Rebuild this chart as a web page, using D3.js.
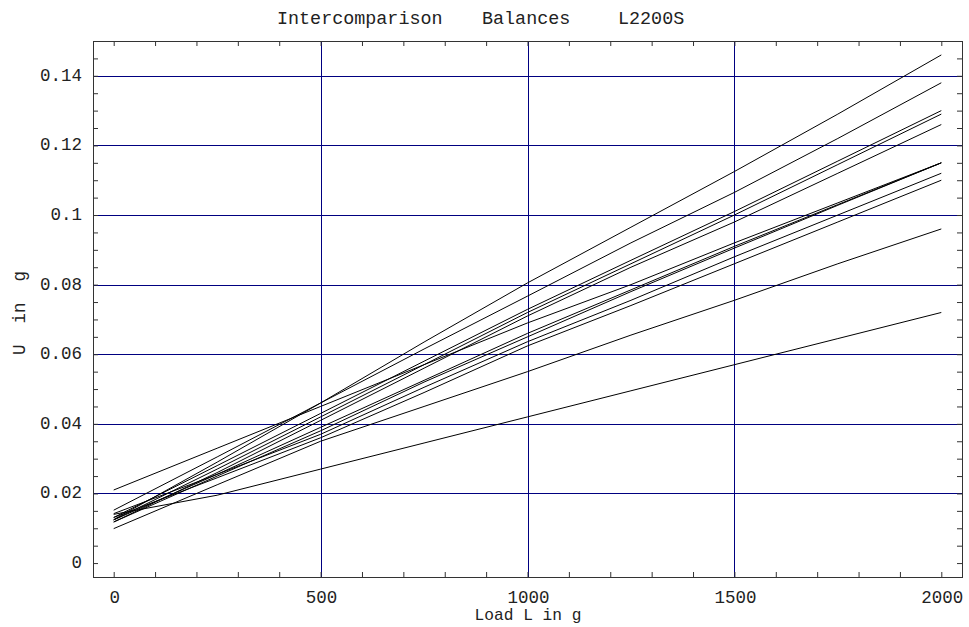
<!DOCTYPE html>
<html>
<head>
<meta charset="utf-8">
<script src="https://cdn.jsdelivr.net/npm/d3@7"></script>
<style>
  body { margin: 0; background: #fff; }
  text { font-family: "Liberation Mono", "Courier New", monospace; fill: #222; }
</style>
</head>
<body>
<svg width="969" height="627"></svg>
<script>
// load points (g)
var loads = [0, 250, 500, 750, 1000, 1250, 1500, 1750, 2000]

// uncertainty U (g) of each balance at the loads above
var balance1 = [0.0125, 0.0290, 0.0460, 0.0635, 0.0805, 0.0965, 0.1125, 0.1290, 0.1460]
var balance2 = [0.0152, 0.0305, 0.0460, 0.0615, 0.0767, 0.0920, 0.1065, 0.1220, 0.1380]
var balance3 = [0.0131, 0.0280, 0.0430, 0.0580, 0.0729, 0.0870, 0.1010, 0.1155, 0.1300]
var balance4 = [0.0124, 0.0270, 0.0420, 0.0570, 0.0720, 0.0860, 0.1000, 0.1145, 0.1290]
var balance5 = [0.0118, 0.0260, 0.0410, 0.0560, 0.0710, 0.0850, 0.0980, 0.1120, 0.1260]
var balance6 = [0.0210, 0.0330, 0.0450, 0.0570, 0.0690, 0.0800, 0.0920, 0.1035, 0.1150]
var balance7 = [0.0124, 0.0255, 0.0390, 0.0525, 0.0660, 0.0785, 0.0910, 0.1030, 0.1150]
var balance8 = [0.0118, 0.0250, 0.0380, 0.0520, 0.0650, 0.0780, 0.0905, 0.1028, 0.1150]
var balance9 = [0.0142, 0.0255, 0.0370, 0.0505, 0.0636, 0.0755, 0.0880, 0.1000, 0.1120]
var balance10 = [0.0131, 0.0245, 0.0360, 0.0490, 0.0624, 0.0740, 0.0860, 0.0980, 0.1100]
var balance11 = [0.0099, 0.0225, 0.0350, 0.0450, 0.0550, 0.0655, 0.0755, 0.0860, 0.0960]
var balance12 = [0.0140, 0.0195, 0.0270, 0.0345, 0.0420, 0.0495, 0.0570, 0.0645, 0.0720]

var balances = [balance1, balance2, balance3, balance4, balance5, balance6,
  balance7, balance8, balance9, balance10, balance11, balance12]

var xTicks = [0, 500, 1000, 1500, 2000]
var yTicks = [0, 0.02, 0.04, 0.06, 0.08, 0.1, 0.12, 0.14]
var xGrid = [500, 1000, 1500]
var yGrid = [0.02, 0.04, 0.06, 0.08, 0.1, 0.12, 0.14]

var svg = d3.select('svg')
var pLeft = 93, pRight = 962, pTop = 41, pBottom = 577

var x = d3.scaleLinear().domain([-50, 2050]).range([pLeft, pRight])
var y = d3.scaleLinear().domain([-0.004, 0.15]).range([pBottom, pTop])

var gridColor = '#000080'

// grid lines
svg.selectAll('.hgrid').data(yGrid).enter().append('line')
  .attr('x1', pLeft).attr('x2', pRight)
  .attr('y1', (d) => Math.round(y(d)) + 0.5).attr('y2', (d) => Math.round(y(d)) + 0.5)
  .style('stroke', gridColor)
svg.selectAll('.vgrid').data(xGrid).enter().append('line')
  .attr('y1', pTop).attr('y2', pBottom)
  .attr('x1', (d) => Math.round(x(d)) + 0.5).attr('x2', (d) => Math.round(x(d)) + 0.5)
  .style('stroke', gridColor)

// the curves
var line = d3.line()
  .x((d, i) => x(loads[i]))
  .y((d) => y(d))

svg.selectAll('.curve').data(balances).enter().append('path')
  .attr('d', line)
  .style('fill', 'none')
  .style('stroke', '#000')
  .style('stroke-width', 1)

// axes, ticks pointing inward on all four sides
var tl = 5
var xMinor = d3.range(0, 2001, 100)
var yMinor = d3.range(0, 0.1501, 0.005)

function frame (g) { g.select('.domain').remove(); g.selectAll('.tick line').style('stroke', '#333') }

svg.append('g').attr('transform', 'translate(0,' + pBottom + ')')
  .call(d3.axisTop(x).tickValues(xMinor).tickSize(tl).tickFormat(''))
  .call(frame)
svg.append('g').attr('transform', 'translate(0,' + pTop + ')')
  .call(d3.axisBottom(x).tickValues(xMinor).tickSize(tl).tickFormat(''))
  .call(frame)
svg.append('g').attr('transform', 'translate(' + pLeft + ',0)')
  .call(d3.axisRight(y).tickValues(yMinor).tickSize(tl).tickFormat(''))
  .call(frame)
svg.append('g').attr('transform', 'translate(' + pRight + ',0)')
  .call(d3.axisLeft(y).tickValues(yMinor).tickSize(tl).tickFormat(''))
  .call(frame)

svg.append('rect')
  .attr('x', pLeft + 0.5).attr('y', pTop + 0.5)
  .attr('width', pRight - pLeft).attr('height', pBottom - pTop)
  .style('fill', 'none').style('stroke', '#333')

// tick labels
svg.selectAll('.xlab').data(xTicks).enter().append('text')
  .attr('x', (d) => x(d) + 1).attr('y', 603)
  .attr('text-anchor', 'middle')
  .style('font-size', '17.5px')
  .text((d) => d)

svg.selectAll('.ylab').data(yTicks).enter().append('text')
  .attr('x', 82).attr('y', (d) => y(d) + 5)
  .attr('text-anchor', 'end')
  .style('font-size', '17.5px')
  .text((d) => d3.format('')(d))

// title
var titleParts = [['Intercomparison', 277], ['Balances', 482], ['L2200S', 618]]
svg.selectAll('.title').data(titleParts).enter().append('text')
  .attr('x', (d) => d[1]).attr('y', 24)
  .style('font-size', '18.4px')
  .text((d) => d[0])

// axis titles
svg.append('text')
  .attr('x', 528).attr('y', 620)
  .attr('text-anchor', 'middle')
  .style('font-size', '16.2px')
  .text('Load L in g')

svg.append('text')
  .attr('transform', 'translate(25,313) rotate(-90)')
  .attr('text-anchor', 'middle')
  .style('font-size', '17.5px')
  .style('white-space', 'pre')
  .attr('xml:space', 'preserve')
  .text('U  in  g')
</script>
</body>
</html>
